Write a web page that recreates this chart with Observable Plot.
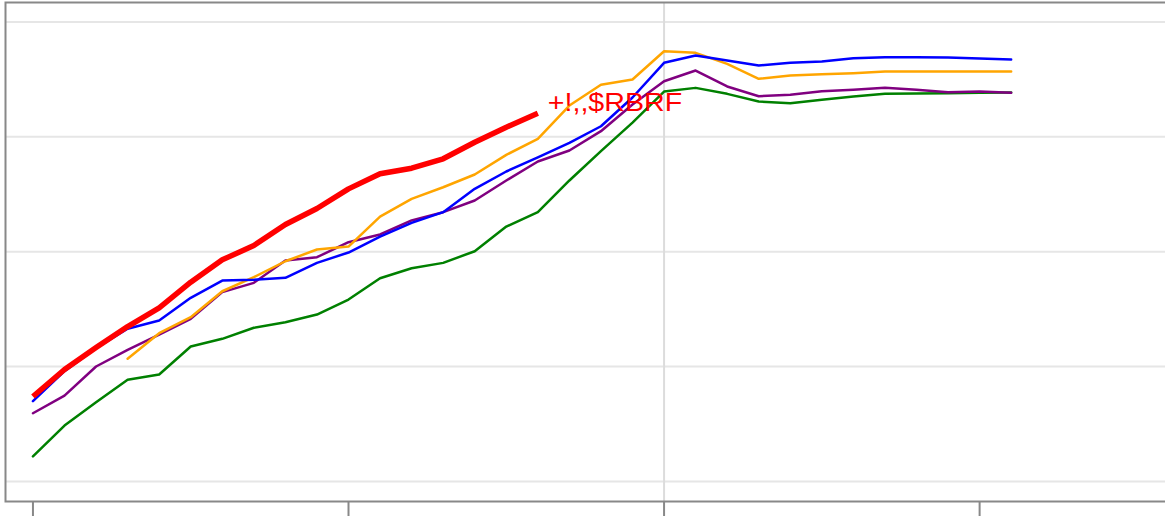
<!DOCTYPE html>
<html>
<head>
<meta charset="utf-8">
<script src="https://cdn.jsdelivr.net/npm/d3@7"></script>
<script src="https://cdn.jsdelivr.net/npm/@observablehq/plot@0.6"></script>
<style>
  html, body { margin: 0; padding: 0; background: #fff; overflow: hidden; }
  #chart { width: 1165px; height: 519px; overflow: hidden; }
  #chart svg { display: block; max-width: none !important; height: 519px !important; }
</style>
</head>
<body>
<div id="chart"></div>
<script>
const years = d3.range(1990, 2022);
const xTicks = [1990, 2000, 2010, 2020];
const yGrid = [0, 10, 20, 30, 40];
const highlightLabel = "+!,,$RBRF";

const redStart = 1990;
const redValues = [7.4, 9.75, 11.66, 13.49, 15.12, 17.35, 19.29, 20.54, 22.37, 23.76, 25.47, 26.78, 27.27, 28.09, 29.53, 30.84, 32.05];

const blueValues = [6.99, 9.6, 11.6, 13.29, 14.01, 15.99, 17.49, 17.55, 17.73, 19.03, 19.93, 21.32, 22.51, 23.44, 25.47, 26.98, 28.22, 29.48, 30.92, 33.42, 36.44, 37.08, 36.64, 36.21, 36.44, 36.55, 36.84, 36.93, 36.93, 36.9, 36.81, 36.73];

const orangeStart = 1993;
const orangeValues = [10.68, 12.91, 14.3, 16.56, 17.78, 19.17, 20.19, 20.45, 23.06, 24.6, 25.61, 26.72, 28.43, 29.83, 32.72, 34.53, 34.99, 37.45, 37.31, 36.35, 35.05, 35.34, 35.45, 35.54, 35.68, 35.68, 35.68, 35.68, 35.68];

const purpleValues = [5.94, 7.48, 10.01, 11.46, 12.79, 14.16, 16.48, 17.29, 19.23, 19.52, 20.83, 21.5, 22.72, 23.44, 24.46, 26.2, 27.85, 28.81, 30.49, 32.81, 34.84, 35.77, 34.38, 33.53, 33.66, 33.97, 34.09, 34.26, 34.09, 33.88, 33.94, 33.83];

const greenValues = [2.18, 4.87, 6.9, 8.85, 9.31, 11.75, 12.42, 13.38, 13.86, 14.53, 15.84, 17.69, 18.56, 19.03, 20.04, 22.19, 23.44, 26.2, 28.76, 31.24, 33.94, 34.26, 33.74, 33.07, 32.92, 33.22, 33.51, 33.74, 33.77, 33.8, 33.83, 33.86];

const toRows = (start, values) => values.map((v, i) => ({year: start + i, value: v}));
const red = toRows(redStart, redValues);
const blue = toRows(years[0], blueValues);
const orange = toRows(orangeStart, orangeValues);
const purple = toRows(years[0], purpleValues);
const green = toRows(years[0], greenValues);
const redEnd = [red[red.length - 1]];

const plot = Plot.plot({
  width: 1200,
  height: 519,
  marginLeft: 5,
  marginRight: 0,
  marginTop: 2,
  marginBottom: 18,
  style: {fontFamily: "'Liberation Sans', Arial, sans-serif", background: "#fff", maxWidth: "none"},
  x: {type: "linear", domain: [1989.13, 2027], axis: null},
  y: {domain: [-1.74, 41.69], axis: null},
  marks: [
    Plot.ruleY(yGrid, {stroke: "#e6e6e6", strokeWidth: 2}),
    Plot.ruleX([2010], {stroke: "#dcdcdc", strokeWidth: 2}),
    Plot.frame({stroke: "#888", strokeWidth: 2}),
    Plot.axisX({ticks: xTicks, tickSize: 15, tickFormat: () => "", label: null, stroke: "#888", strokeWidth: 2}),
    Plot.line(green, {x: "year", y: "value", stroke: "green", strokeWidth: 2.5}),
    Plot.line(purple, {x: "year", y: "value", stroke: "purple", strokeWidth: 2.5}),
    Plot.line(orange, {x: "year", y: "value", stroke: "orange", strokeWidth: 2.5}),
    Plot.line(blue, {x: "year", y: "value", stroke: "blue", strokeWidth: 2.5}),
    Plot.line(red, {x: "year", y: "value", stroke: "red", strokeWidth: 5.5, strokeLinecap: "butt"}),
    Plot.text(redEnd, {x: "year", y: "value", text: () => highlightLabel, fill: "red", fontSize: 26, textAnchor: "start", lineAnchor: "bottom", dx: 10, dy: -2})
  ]
});
document.getElementById("chart").append(plot);

// widen the label glyphs horizontally, as in the reference
d3.select(plot).selectAll("text").each(function () {
  if (this.textContent !== highlightLabel) return;
  const t = this.getAttribute("transform");
  if (t && /^translate/.test(t)) {
    this.setAttribute("transform", t + " scale(1.1,1)");
  } else {
    this.style.letterSpacing = "1.2px";
  }
});
</script>
</body>
</html>
